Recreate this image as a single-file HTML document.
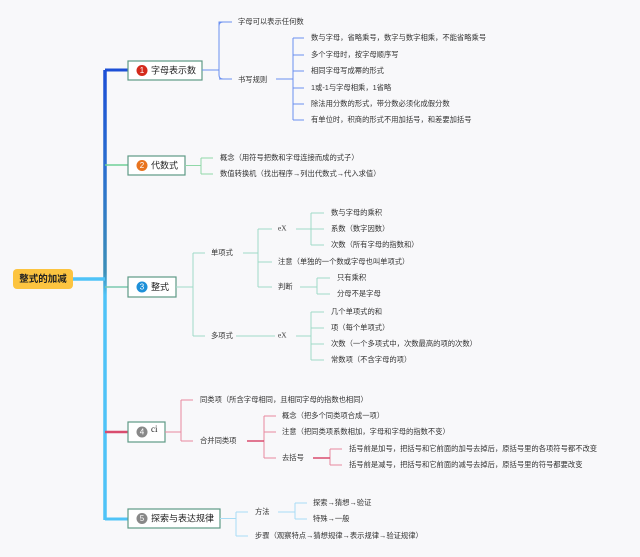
<!DOCTYPE html>
<html><head><meta charset="utf-8"><style>
html,body{margin:0;padding:0;background:#f8f8fa;}
svg{display:block;}
text{font-family:"Liberation Sans","Noto Sans CJK SC",sans-serif;font-size:7.3px;fill:#333;dominant-baseline:middle;}
.t{font-size:9px;fill:#222;}
.n{font-size:8px;fill:#fff;text-anchor:middle;}
</style></head><body>
<svg width="640" height="557" viewBox="0 0 640 557" xmlns="http://www.w3.org/2000/svg">
<defs>
<linearGradient id="tr" x1="0" y1="70" x2="0" y2="520" gradientUnits="userSpaceOnUse">
<stop offset="0" stop-color="#1d4fd6"/><stop offset="0.22" stop-color="#2a6fcf"/><stop offset="0.45" stop-color="#3c8fb8"/><stop offset="0.5" stop-color="#4fc3f7"/><stop offset="1" stop-color="#4fc3f7"/>
</linearGradient>
</defs>
<rect width="640" height="557" fill="#f8f8fa"/>
<path d="M105 70 V520" stroke="url(#tr)" stroke-width="3.5" fill="none"/>
<path d="M73 279 H105" stroke="#4fc3f7" stroke-width="3.5"/>
<path d="M105 70 H128" stroke="#1d4fd6" stroke-width="3"/>
<path d="M105 165 H128" stroke="#6fcf97" stroke-width="1.5"/>
<path d="M105 287 H128" stroke="#7ac9b0" stroke-width="1.5"/>
<path d="M105 432 H128" stroke="#d94c6e" stroke-width="2.5"/>
<path d="M105 519 H128" stroke="#4fc3f7" stroke-width="3"/>
<rect x="13" y="269" width="60" height="20" rx="4" fill="#fcc440"/>
<text x="43" y="279.5" class="t" style="font-size:9.5px;font-weight:bold;text-anchor:middle">整式的加减</text>
<g stroke="#5e9a86" stroke-width="1.2" fill="#fff">
<rect x="128" y="61" width="74" height="19"/>
<rect x="128" y="156" width="57" height="19"/>
<rect x="128" y="277" width="48" height="20"/>
<rect x="128" y="422" width="37" height="20"/>
<rect x="128" y="509" width="92" height="19"/>
</g>
<circle cx="142" cy="70.5" r="5.5" fill="#d42a1b"/><text x="142" y="71" class="n">1</text><text x="151" y="71" class="t">字母表示数</text>
<circle cx="142" cy="165.5" r="5.5" fill="#e8741f"/><text x="142" y="166" class="n">2</text><text x="151" y="166" class="t">代数式</text>
<circle cx="142" cy="287" r="5.5" fill="#1e90d8"/><text x="142" y="287.5" class="n">3</text><text x="151" y="287.5" class="t">整式</text>
<circle cx="142" cy="432" r="5.5" fill="#888"/><text x="142" y="432.5" class="n">4</text><text x="151" y="430" class="t" style="font-family:'Liberation Serif',serif">ci</text>
<circle cx="142" cy="518.5" r="5.5" fill="#888"/><text x="142" y="519" class="n">5</text><text x="151" y="519" class="t">探索与表达规律</text>
<g stroke="#6a8ff0" stroke-width="1" fill="none">
<path d="M202 70 H219 M223 22 Q219 22 219 26 V75 Q219 79 223 79 M219 26 V22 H232 M219 79 H232"/>
<path d="M276 79 H293 M293 38 V120 M293 38 H304 M293 55 H304 M293 71 H304 M293 88 H304 M293 104 H304 M293 120 H304"/>
</g>
<text x="238" y="22">字母可以表示任何数</text>
<text x="238" y="80">书写规则</text>
<text x="311" y="38">数与字母，省略乘号，数字与数字相乘，不能省略乘号</text>
<text x="311" y="55">多个字母时，按字母顺序写</text>
<text x="311" y="71">相同字母写成幂的形式</text>
<text x="311" y="88">1或-1与字母相乘，1省略</text>
<text x="311" y="104">除法用分数的形式，带分数必须化成假分数</text>
<text x="311" y="120">有单位时，积商的形式不用加括号，和差要加括号</text>
<g stroke="#90d8a8" stroke-width="1" fill="none">
<path d="M185 165.5 H201 M201 158 V174 M201 158 H213 M201 174 H213"/>
</g>
<text x="220" y="158">概念（用符号把数和字母连接而成的式子）</text>
<text x="220" y="174">数值转换机（找出程序→列出代数式→代入求值）</text>
<g stroke="#9fdac8" stroke-width="1" fill="none">
<path d="M176 287 H193 M193 253 V336 M193 253 H205 M193 336 H205"/>
<path d="M243 253 H258 M258 229 V287 M258 229 H272 M258 262 H272 M258 287 H272"/>
<path d="M296 229 H311 M311 213 V245 M311 213 H324 M311 229 H324 M311 245 H324"/>
<path d="M300 287 H317 M317 278 V294 M317 278 H330 M317 294 H330"/>
<path d="M236 336 H275 M296 336 H311 M311 312 V360 M311 312 H324 M311 328 H324 M311 344 H324 M311 360 H324"/>
</g>
<text x="211" y="253">单项式</text>
<text x="211" y="336">多项式</text>
<text x="278" y="229" style="font-family:'Liberation Serif',serif">eX</text>
<text x="278" y="262">注意（单独的一个数或字母也叫单项式）</text>
<text x="278" y="287">判断</text>
<text x="278" y="336" style="font-family:'Liberation Serif',serif">eX</text>
<text x="331" y="213">数与字母的乘积</text>
<text x="331" y="229">系数（数字因数）</text>
<text x="331" y="245">次数（所有字母的指数和）</text>
<text x="337" y="278">只有乘积</text>
<text x="337" y="294">分母不是字母</text>
<text x="331" y="312">几个单项式的和</text>
<text x="331" y="328">项（每个单项式）</text>
<text x="331" y="344">次数（一个多项式中，次数最高的项的次数）</text>
<text x="331" y="360">常数项（不含字母的项）</text>
<g stroke="#e8889f" stroke-width="1" fill="none">
<path d="M165 432 H181 M181 400 V441 M181 400 H193 M181 441 H193"/>
<path d="M264 416 V458 M264 416 H276 M264 432 H276 M264 458 H276"/>
<path d="M330 449 V465 M330 449 H342 M330 465 H342"/>
</g>
<path d="M247 441 H264 M313 458 H330" stroke="#d94c6e" stroke-width="1.5"/>
<text x="200" y="400">同类项（所含字母相同，且相同字母的指数也相同）</text>
<text x="200" y="441">合并同类项</text>
<text x="282" y="416">概念（把多个同类项合成一项）</text>
<text x="282" y="432">注意（把同类项系数相加，字母和字母的指数不变）</text>
<text x="282" y="458">去括号</text>
<text x="349" y="449">括号前是加号，把括号和它前面的加号去掉后，原括号里的各项符号都不改变</text>
<text x="349" y="465">括号前是减号，把括号和它前面的减号去掉后，原括号里的符号都要改变</text>
<g stroke="#a8dcf5" stroke-width="1" fill="none">
<path d="M220 518.5 H236 M236 512 V536 M236 512 H248 M236 536 H248"/>
<path d="M278 512 H295 M295 503 V519 M295 503 H307 M295 519 H307"/>
</g>
<text x="255" y="512">方法</text>
<text x="255" y="536">步骤（观察特点→猜想规律→表示规律→验证规律）</text>
<text x="313" y="503">探索→猜想→验证</text>
<text x="313" y="519">特殊→一般</text>
</svg>
</body></html>
